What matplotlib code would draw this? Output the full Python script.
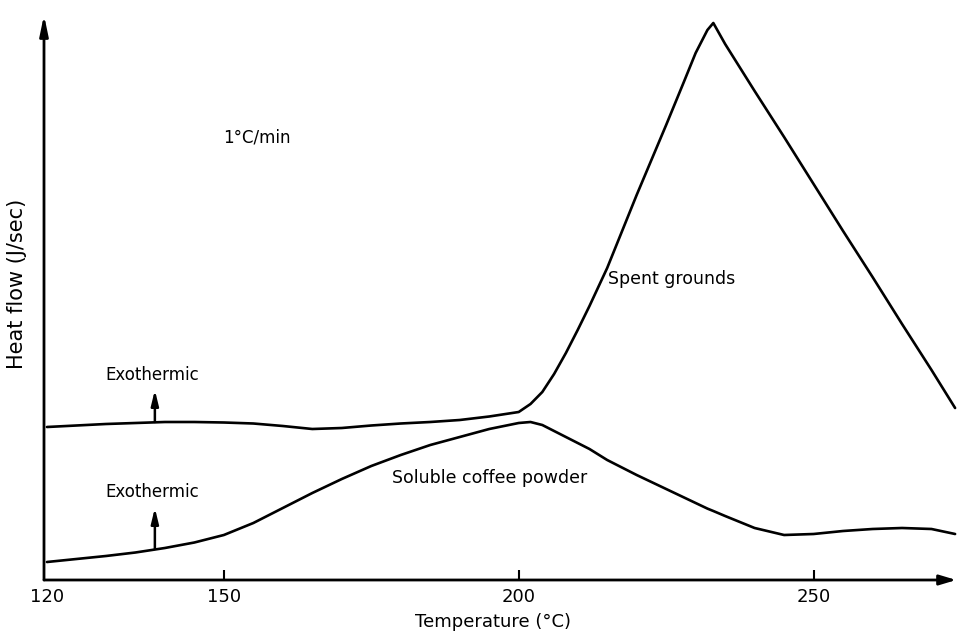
import numpy as np
import matplotlib
matplotlib.use("Agg")
import matplotlib.pyplot as plt

# DSC traces of coffee residues, heat flow in arbitrary units
temp = [120, 125, 130, 135, 140, 145, 150, 155, 160, 165, 170, 175, 180,
        185, 190, 195, 200, 202, 204, 206, 208, 210, 212, 215, 220, 225,
        228, 230, 232, 233, 235, 240, 245, 250, 255, 260, 265, 270, 274]

spent_grounds = [1.53, 1.545, 1.56, 1.57, 1.58, 1.58, 1.575, 1.565, 1.54,
                 1.51, 1.52, 1.545, 1.565, 1.58, 1.60, 1.635, 1.68, 1.76,
                 1.88, 2.06, 2.27, 2.50, 2.74, 3.12, 3.85, 4.55, 4.98, 5.27,
                 5.50, 5.57, 5.36, 4.89, 4.43, 3.96, 3.49, 3.03, 2.56, 2.10,
                 1.72]

soluble_powder = [0.18, 0.21, 0.24, 0.275, 0.32, 0.375, 0.45, 0.57, 0.72,
                  0.87, 1.01, 1.14, 1.25, 1.35, 1.43, 1.51, 1.57, 1.58,
                  1.55, 1.49, 1.43, 1.37, 1.31, 1.20, 1.05, 0.91, 0.826,
                  0.77, 0.714, 0.69, 0.64, 0.52, 0.45, 0.46, 0.49, 0.51,
                  0.52, 0.51, 0.46]

xticks = [120, 150, 200, 250]

# "Exothermic" direction arrows (x, tail, head)
exo_x = 138.3
exo_upper = (1.58, 1.90)
exo_lower = (0.31, 0.72)

plt.rcParams['font.family'] = ['DejaVu Sans']

fig = plt.figure(figsize=(9.61, 6.34), dpi=100)
ax = fig.add_axes([44 / 961, 1 - 580 / 634, 917 / 961, 570 / 634])

ax.plot(temp, spent_grounds, color='black', lw=1.9, solid_capstyle='round')
ax.plot(temp, soluble_powder, color='black', lw=1.9, solid_capstyle='round')

ax.set_xlim(119.5, 275)
ax.set_ylim(0, 5.70)

for s in ax.spines.values():
    s.set_visible(False)

# hand-drawn style axes with arrow heads
ax.annotate('', xy=(274.2, 0), xytext=(119.5, 0),
            arrowprops=dict(arrowstyle='-|>,head_length=1.0,head_width=0.3',
                            color='black', lw=2, shrinkA=0, shrinkB=0),
            annotation_clip=False)
ax.annotate('', xy=(119.5, 5.65), xytext=(119.5, 0),
            arrowprops=dict(arrowstyle='-|>,head_length=1.2,head_width=0.25',
                            color='black', lw=2, shrinkA=0, shrinkB=0),
            annotation_clip=False)

ax.set_xticks(xticks)
ax.set_xticklabels([str(t) for t in xticks])
ax.tick_params(axis='x', direction='in', length=7, width=1.5, pad=6,
               labelsize=13)
# the origin sits on the y axis, no separate tick there
ax.xaxis.get_major_ticks()[0].tick1line.set_visible(False)
ax.set_yticks([])

ax.set_xlabel('Temperature (°C)', fontsize=13)
ax.xaxis.set_label_coords(0.49, -0.058)
ax.set_ylabel('Heat flow (J/sec)', fontsize=15)
ax.yaxis.set_label_coords(-0.018, 0.52)

for tail, head in (exo_upper, exo_lower):
    ax.annotate('', xy=(exo_x, head), xytext=(exo_x, tail),
                arrowprops=dict(arrowstyle='-|>,head_length=0.9,head_width=0.22',
                                color='black', lw=1.8, shrinkA=0, shrinkB=0))

ax.text(137.8, 2.05, 'Exothermic', ha='center', va='center', fontsize=12)
ax.text(137.8, 0.88, 'Exothermic', ha='center', va='center', fontsize=12)
ax.text(149.9, 4.43, '1°C/min', ha='left', va='center', fontsize=12)
ax.text(215.2, 3.01, 'Spent grounds', ha='left', va='center', fontsize=12.5)
ax.text(178.5, 1.02, 'Soluble coffee powder', ha='left', va='center',
        fontsize=12.5)

fig.savefig('out.png', dpi=100)
